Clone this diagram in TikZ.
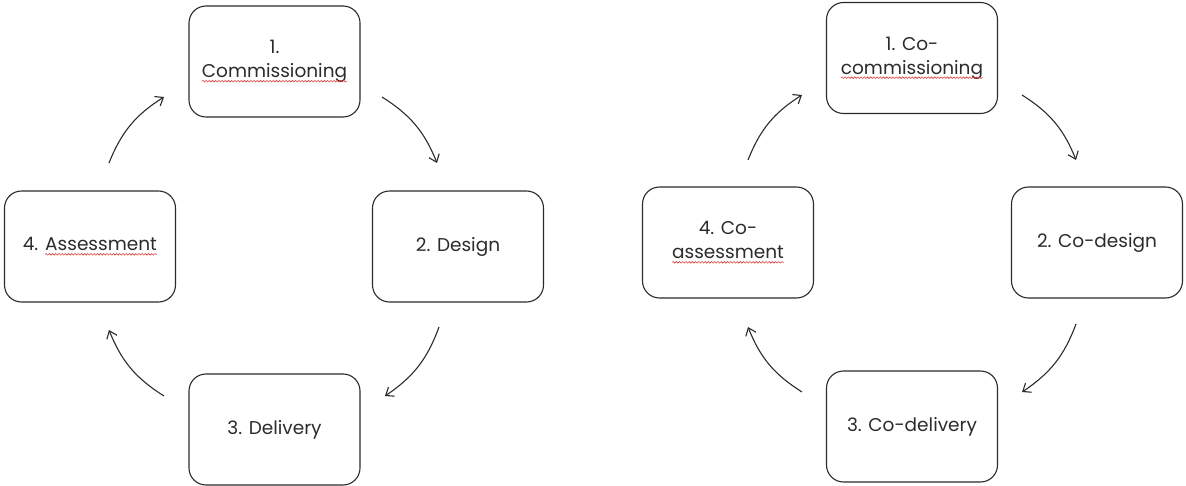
\documentclass[tikz,border=0pt]{standalone}
\usepackage{fontspec}
\setmainfont{Poppins}
\usetikzlibrary{arrows.meta,decorations.pathmorphing}
\definecolor{ink}{HTML}{2B2B2B}
\definecolor{squiggle}{HTML}{E03C3C}
% wavy red underline under a word
\newcommand\squig[1]{\tikz[baseline=(sq.base)]{\node[draw=none,inner sep=0pt,outer sep=0pt,minimum width=0pt,minimum height=0pt,rounded corners=0pt](sq){#1};\draw[squiggle,line width=0.6pt,rounded corners=0pt,decorate,decoration={snake,amplitude=0.8pt,segment length=3.2pt}]([yshift=-3.5pt]sq.base west)--([yshift=-3.5pt]sq.base east);}}
\tikzset{
  stage/.style={draw=ink,line width=1.1pt,rounded corners=17pt,minimum width=171pt,minimum height=111pt,
    text=ink,align=center,font=\fontsize{18.5}{24}\selectfont,inner sep=0pt},
  flow/.style={draw=ink,line width=1.1pt,-{Straight Barb[length=7pt,width=11pt,line width=1.1pt]}},
}
\begin{document}
\begin{tikzpicture}[x=1pt,y=1pt]
\useasboundingbox (0,0) rectangle (1186,-486);
% left cycle
\node[stage] (a1) at (274.5,-61.5) {1.\\\squig{Commissioning}};
\node[stage] (a2) at (458,-246.5) {2. Design};
\node[stage] (a3) at (274.5,-429.5) {3. Delivery};
\node[stage] (a4) at (90,-246.5) {4. \squig{Assessment}};
\coordinate (a12s) at (382,-97);  \coordinate (a12e) at (437,-163);
\coordinate (a23s) at (439,-327); \coordinate (a23e) at (385,-396);
\coordinate (a34s) at (164,-396); \coordinate (a34e) at (109,-330);
\coordinate (a41s) at (109,-163); \coordinate (a41e) at (164,-97);
\draw[flow] (a12s) to[bend left=18] (a12e);
\draw[flow] (a23s) to[bend left=18] (a23e);
\draw[flow] (a34s) to[bend left=18] (a34e);
\draw[flow] (a41s) to[bend left=18] (a41e);
% right cycle
\node[stage] (b1) at (912,-58) {1. Co-\\\squig{commissioning}};
\node[stage] (b2) at (1097,-242.5) {2. Co-design};
\node[stage] (b3) at (912,-426.5) {3. Co-delivery};
\node[stage] (b4) at (728,-242.5) {4. Co-\\\squig{assessment}};
\coordinate (b12s) at (1022,-95);  \coordinate (b12e) at (1076,-160);
\coordinate (b23s) at (1076,-324); \coordinate (b23e) at (1022,-392);
\coordinate (b34s) at (802,-392);  \coordinate (b34e) at (748,-327);
\coordinate (b41s) at (748,-160);  \coordinate (b41e) at (802,-95);
\draw[flow] (b12s) to[bend left=18] (b12e);
\draw[flow] (b23s) to[bend left=18] (b23e);
\draw[flow] (b34s) to[bend left=18] (b34e);
\draw[flow] (b41s) to[bend left=18] (b41e);
\end{tikzpicture}
\end{document}
